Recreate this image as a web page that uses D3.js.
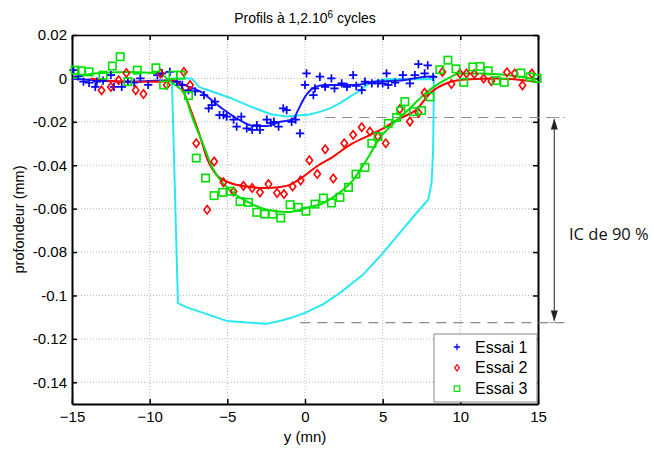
<!DOCTYPE html>
<html><head><meta charset="utf-8">
<script src="https://cdn.jsdelivr.net/npm/d3@7"></script>
<style>body{margin:0;background:#fff}</style>
</head><body>
<svg id="c" width="654" height="450"></svg>
<script>
// ---- Data ----
const xTicks = [-15, -10, -5, 0, 5, 10, 15];
const yTicks = [0.02, 0, -0.02, -0.04, -0.06, -0.08, -0.1, -0.12, -0.14];
const yTickLabels = ["0.02", "0", "-0.02", "-0.04", "-0.06", "-0.08", "-0.1", "-0.12", "-0.14"];
const seriesNames = ["Essai 1", "Essai 2", "Essai 3"];

const essai1Points = [
  [-14.9,0.0038],[-14.6,0.001],[-14.26,-0.0015],[-13.9,-0.002],[-13.5,-0.0039],[-13.4,-0.0015],[-13.0,-0.001],
  [-12.5,0.0015],[-12.3,-0.0039],[-11.8,-0.0039],[-11.4,-0.0015],[-11.0,-0.002],[-10.6,0],[-10.1,-0.003],
  [-9.5,0.0015],[-9.2,0.0023],[-8.7,0.003],[-8.25,-0.0015],[-7.9,-0.003],[-7.5,-0.0054],[-7.07,-0.006],
  [-6.5,-0.0077],[-6.2,-0.0138],[-6.0,-0.0123],[-5.8,-0.0107],[-5.5,-0.0169],[-5.25,-0.0169],[-5.04,-0.0176],
  [-4.6,-0.019],[-4.4,-0.0222],[-4.1,-0.0176],[-3.75,-0.023],[-3.4,-0.0237],[-3.1,-0.0215],[-2.9,-0.0237],
  [-2.46,-0.019],[-2.2,-0.0205],[-2.0,-0.02],[-1.7,-0.0222],[-1.4,-0.0138],[-1.18,-0.0146],[-0.86,-0.02],
  [-0.6,-0.019],[-0.32,-0.0253],[0,-0.003],[0.1,0.0023],[0.54,-0.0077],[0.64,-0.0046],[0.96,0.0008],
  [1.3,-0.0039],[1.7,0],[1.9,-0.0046],[2.36,-0.0023],[2.7,-0.0039],[3.1,0.0015],[3.3,-0.0035],[3.65,-0.0054],
  [3.86,-0.0015],[4.3,-0.0023],[4.7,-0.0023],[5.0,-0.0023],[5.25,0.0023],[5.36,-0.003],[5.8,-0.002],
  [6.3,0.0015],[6.75,-0.0023],[7.07,0.0015],[7.3,0.0066],[7.7,0.0023],[7.9,0.006],[8.25,0.0007]
];
const essai1Fit = [
  [-15,0],[-13.6,-0.0008],[-11.4,-0.0015],[-9.3,-0.001],[-8.7,-0.001],[-7.8,-0.003],[-6.75,-0.006],
  [-5.5,-0.013],[-4.4,-0.0184],[-3.3,-0.0219],[-2.46,-0.0219],[-1.6,-0.02],[-0.77,-0.0188],[-0.45,-0.0146],
  [0,-0.0085],[0.5,-0.0046],[1.2,-0.003],[2.25,-0.003],[3.3,-0.003],[4.4,-0.0015],[6.1,-0.001],[7.6,0.0007],[8.4,0.001]
];
const essai2Points = [
  [-13.1,-0.0055],[-12.5,-0.0039],[-12.0,-0.0008],[-11.5,0.0025],[-10.9,-0.0054],[-10.4,-0.0072],[-9.3,0.0023],
  [-8.9,-0.003],[-7.8,0.003],[-7.4,-0.003],[-7.0,-0.0299],[-6.3,-0.0605],[-5.85,-0.0383],[-5.25,-0.0478],
  [-4.6,-0.0521],[-3.96,-0.0495],[-3.4,-0.0505],[-2.9,-0.0525],[-2.35,-0.0487],[-1.8,-0.0528],[-1.35,-0.0533],
  [-0.8,-0.0498],[-0.28,-0.047],[0.28,-0.0377],[0.79,-0.044],[1.3,-0.0326],[1.82,-0.0461],[2.53,-0.0299],
  [3.1,-0.026],[3.65,-0.0225],[4.18,-0.0245],[4.7,-0.0268],[5.2,-0.0299],[6.1,-0.0142],[6.75,-0.0199],
  [7.3,-0.0158],[7.7,-0.0066],[8.85,0.003],[9.43,-0.0026],[9.97,0.0023],[10.4,0.0023],[10.9,0.002],
  [11.5,0],[12.0,-0.0013],[13.0,0.0028],[13.5,0.0023],[14.0,-0.0032],[14.6,0.0023]
];
const essai2Fit = [
  [-13.8,0],[-12.5,-0.0012],[-11.4,-0.0015],[-9.3,-0.0015],[-8.5,-0.001],[-8.0,-0.003],[-7.6,-0.01],
  [-7.2,-0.0176],[-6.75,-0.0268],[-6.3,-0.037],[-5.7,-0.0444],[-4.8,-0.0482],[-3.75,-0.0498],[-2.46,-0.0505],
  [-1.18,-0.0495],[-0.32,-0.0463],[0.75,-0.0406],[1.82,-0.036],[2.9,-0.0306],[3.97,-0.0268],[5.04,-0.023],
  [6.1,-0.0184],[7.1,-0.0148],[8.15,-0.0062],[9.2,-0.002],[10.3,-0.0005],[12.4,0],[14.9,-0.0016]
];
const essai3Points = [
  [-14.8,0.0038],[-14.4,0.0035],[-13.9,0.003],[-13.0,0.0015],[-12.4,0.0057],[-11.9,0.01],[-11.4,-0.0015],
  [-10.8,0.0038],[-9.6,0.0049],[-9.1,-0.003],[-8.5,0.0015],[-8.0,0.0015],[-7.5,-0.0079],[-7.0,-0.0367],
  [-6.4,-0.0459],[-5.85,-0.054],[-5.3,-0.0525],[-4.78,-0.052],[-4.18,-0.0567],[-3.64,-0.0571],[-3.1,-0.0617],
  [-2.6,-0.0625],[-2.08,-0.0625],[-1.56,-0.0643],[-0.96,-0.0582],[-0.43,-0.0594],[0.06,-0.0612],[0.64,-0.0579],
  [1.18,-0.0551],[1.7,-0.0574],[2.25,-0.0548],[2.8,-0.0502],[3.28,-0.0441],[3.86,-0.041],[4.3,-0.0299],
  [4.7,-0.0268],[5.36,-0.0207],[5.9,-0.018],[6.17,-0.0149],[6.43,-0.0107],[7.0,-0.0153],[7.5,-0.0148],
  [8.04,-0.0085],[8.68,0.004],[9.2,0.0084],[9.72,0.0044],[10.22,-0.0018],[10.8,0.0053],[11.28,0.0055],
  [11.8,0.0035],[12.3,-0.001],[12.83,-0.0018],[13.9,0.0025],[14.5,0.0007],[14.94,0]
];
const essai3Fit = [
  [-14.9,0],[-13.6,0.0023],[-11.4,0.003],[-9.3,0.0023],[-8.9,0],[-8.5,-0.0023],[-7.8,-0.0069],[-7.2,-0.019],
  [-6.5,-0.0314],[-6.0,-0.0406],[-5.47,-0.0467],[-4.6,-0.0528],[-3.75,-0.0567],[-2.46,-0.0605],[-1.18,-0.0616],
  [0.1,-0.0597],[1.18,-0.0574],[2.25,-0.0525],[3.1,-0.0467],[3.97,-0.0375],[4.8,-0.0276],[5.7,-0.0207],
  [6.75,-0.0138],[7.4,-0.0092],[8.15,-0.0046],[9.2,0],[9.97,0.0023],[11.4,0.0023],[13.1,0.0015],[14.9,-0.0005]
];
const envelope = [
  [-8.57,0],[-7.3,0],[-6.8,-0.004],[-5.8,-0.0065],[-4.8,-0.009],[-3.5,-0.013],[-2.2,-0.0165],[-1.2,-0.0175],
  [-0.3,-0.017],[0.3,-0.0166],[1.0,-0.0153],[1.6,-0.0138],[2.25,-0.0114],[2.9,-0.0084],[3.5,-0.0058],[4.2,-0.002],
  [4.8,-0.0008],[5.5,-0.0003],[8.3,-0.0004],
  [8.25,-0.033],[8.15,-0.048],[7.93,-0.0559],[7.18,-0.062],[6.1,-0.0712],[5.03,-0.0804],[3.75,-0.0903],
  [2.25,-0.0988],[1.18,-0.104],[0,-0.108],[-0.77,-0.110],[-1.5,-0.1115],[-2.46,-0.113],[-3.75,-0.1125],
  [-5.0,-0.1118],[-6.55,-0.108],[-7.6,-0.1055],[-8.18,-0.1035],[-8.57,0]
];
const icBounds = [-0.018, -0.1125];
const icLabel = "IC de 90 %";

// ---- Layout ----
const svg = d3.select("#c");
const L = 72, R = 538, T = 35, B = 404;
const x = d3.scaleLinear().domain([-15, 15]).range([L, R]);
const y = d3.scaleLinear().domain([-0.15, 0.02]).range([B, T]);
const font = "'Liberation Sans', Arial, Helvetica, sans-serif";

// grid
const g = svg.append("g");
g.selectAll(".gx").data(xTicks.slice(1, -1)).join("line")
  .attr("x1", d => x(d)).attr("x2", d => x(d)).attr("y1", T).attr("y2", B)
  .attr("stroke", "#b8b8b8").attr("stroke-width", 1).attr("stroke-dasharray", "1,2");
g.selectAll(".gy").data(yTicks.slice(1)).join("line")
  .attr("y1", d => y(d)).attr("y2", d => y(d)).attr("x1", L).attr("x2", R)
  .attr("stroke", "#b8b8b8").attr("stroke-width", 1).attr("stroke-dasharray", "1,2");

// axes
const xAxisB = d3.axisBottom(x).tickValues(xTicks).tickSizeInner(-5).tickSizeOuter(0).tickPadding(7);
const xAxisT = d3.axisTop(x).tickValues(xTicks).tickSizeInner(-5).tickSizeOuter(0).tickFormat("");
const yAxisL = d3.axisLeft(y).tickValues(yTicks).tickSizeInner(-5).tickSizeOuter(0).tickPadding(5)
  .tickFormat((d, i) => yTickLabels[i]);
const yAxisR = d3.axisRight(y).tickValues(yTicks).tickSizeInner(-5).tickSizeOuter(0).tickFormat("");
function style(sel, w) {
  sel.select(".domain").attr("stroke", "#000").attr("stroke-width", w);
  sel.selectAll(".tick line").attr("stroke", "#000").attr("stroke-width", 1.5);
  sel.selectAll("text").attr("font-family", font).attr("font-size", 15).attr("fill", "#000");
}
svg.append("g").attr("transform", `translate(0,${B})`).call(xAxisB).call(s => style(s, 2));
svg.append("g").attr("transform", `translate(0,${T})`).call(xAxisT).call(s => style(s, 1.5));
svg.append("g").attr("transform", `translate(${L},0)`).call(yAxisL).call(s => style(s, 2));
svg.append("g").attr("transform", `translate(${R},0)`).call(yAxisR).call(s => style(s, 2));

// IC annotation
const ann = svg.append("g");
[[1.3, icBounds[0]], [-0.3, icBounds[1]]].forEach(([x0, v]) => {
  ann.append("line").attr("x1", x(x0)).attr("x2", x(16.7)).attr("y1", y(v)).attr("y2", y(v))
    .attr("stroke", "#8a8a8a").attr("stroke-width", 1.2).attr("stroke-dasharray", "10,7");
});
const ax = x(16.05);
ann.append("line").attr("x1", ax).attr("x2", ax).attr("y1", y(icBounds[0]) + 2).attr("y2", y(icBounds[1]) - 2)
  .attr("stroke", "#555").attr("stroke-width", 1.3);
[[icBounds[0], 1], [icBounds[1], -1]].forEach(([v, s]) => {
  const yy = y(v);
  ann.append("path").attr("d", `M${ax},${yy + s * 1}L${ax - 3.5},${yy + s * 12}L${ax + 3.5},${yy + s * 12}Z`).attr("fill", "#222");
  ann.append("line").attr("x1", ax - 5).attr("x2", ax + 5).attr("y1", yy).attr("y2", yy).attr("stroke", "#999").attr("stroke-width", 1);
});
ann.append("text").attr("x", 569).attr("y", (y(icBounds[0]) + y(icBounds[1])) / 2 + 20)
  .attr("font-family", "'Open Sans', sans-serif").attr("font-size", 16.5).attr("fill", "#111").text(icLabel);

// lines
const line = d3.line().x(d => x(d[0])).y(d => y(d[1])).curve(d3.curveLinear);
const smooth = d3.line().x(d => x(d[0])).y(d => y(d[1])).curve(d3.curveMonotoneX);
svg.append("path").attr("d", line(envelope)).attr("fill", "none").attr("stroke", "#2ae8f2").attr("stroke-width", 2).attr("stroke-linejoin", "round");
svg.append("path").attr("d", smooth(essai1Fit)).attr("fill", "none").attr("stroke", "#1a1aff").attr("stroke-width", 2);
svg.append("path").attr("d", smooth(essai2Fit)).attr("fill", "none").attr("stroke", "#ff0000").attr("stroke-width", 2);
svg.append("path").attr("d", smooth(essai3Fit)).attr("fill", "none").attr("stroke", "#00e000").attr("stroke-width", 2);

// markers
function drawPlus(sel) {
  sel.append("path").attr("d", "M-4.2,0H4.2M0,-4.2V4.2").attr("stroke", "#0000ff").attr("stroke-width", 1.7).attr("fill", "none");
}
function drawDiamond(sel) {
  sel.append("path").attr("d", "M0,-4.2L3.2,0L0,4.2L-3.2,0Z").attr("stroke", "#ff0000").attr("stroke-width", 1.6).attr("fill", "none");
}
function drawSquare(sel) {
  sel.append("rect").attr("x", -3.7).attr("y", -3.7).attr("width", 7.4).attr("height", 7.4)
    .attr("stroke", "#00e000").attr("stroke-width", 1.6).attr("fill", "none");
}
svg.append("g").selectAll("g").data(essai1Points).join("g").attr("transform", d => `translate(${x(d[0])},${y(d[1])})`).call(drawPlus);
svg.append("g").selectAll("g").data(essai2Points).join("g").attr("transform", d => `translate(${x(d[0])},${y(d[1])})`).call(drawDiamond);
svg.append("g").selectAll("g").data(essai3Points).join("g").attr("transform", d => `translate(${x(d[0])},${y(d[1])})`).call(drawSquare);

// legend
const lg = svg.append("g").attr("transform", "translate(434,334)");
lg.append("rect").attr("width", 103).attr("height", 68).attr("fill", "#fff").attr("stroke", "#888").attr("stroke-width", 1);
const drawers = [drawPlus, drawDiamond, drawSquare];
seriesNames.forEach((n, i) => {
  const row = lg.append("g").attr("transform", `translate(23,${13 + i * 20.8})`);
  row.call(drawers[i]);
  row.select("path,rect").attr("transform", "scale(0.75)");
  row.append("text").attr("x", 18).attr("y", 5.5).attr("font-family", font).attr("font-size", 16).text(n);
});

// titles
const t = svg.append("text").attr("x", 305).attr("y", 23).attr("text-anchor", "middle")
  .attr("font-family", font).attr("font-size", 14);
t.append("tspan").text("Profils à 1,2.10");
t.append("tspan").attr("dy", -5).attr("font-size", 10).text("6");
t.append("tspan").attr("dy", 5).text(" cycles");
svg.append("text").attr("x", 305).attr("y", 442).attr("text-anchor", "middle")
  .attr("font-family", font).attr("font-size", 15).text("y (mn)");
svg.append("text").attr("transform", `translate(24,${(T + B) / 2}) rotate(-90)`).attr("text-anchor", "middle")
  .attr("font-family", font).attr("font-size", 14.5).text("profondeur (mm)");
</script>
</body></html>
